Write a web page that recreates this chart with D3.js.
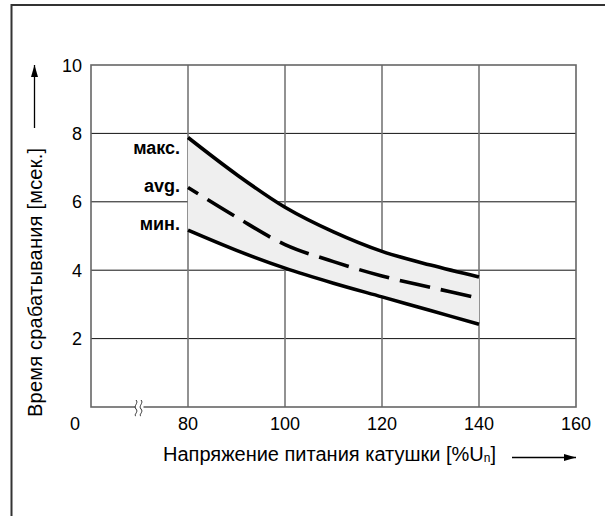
<!DOCTYPE html>
<html>
<head>
<meta charset="utf-8">
<script src="https://cdn.jsdelivr.net/npm/d3@7"></script>
<style>
  body { margin: 0; background: #fff; }
  text { font-family: "Liberation Sans", Arial, sans-serif; }
</style>
</head>
<body>
<svg width="605" height="516"></svg>
<script>
// data
const voltage = [80, 90, 100, 110, 120, 130, 140];
const tMax = [7.88, 6.8, 5.84, 5.12, 4.55, 4.15, 3.8];
const tAvg = [6.42, 5.55, 4.75, 4.25, 3.83, 3.5, 3.18];
const tMin = [5.17, 4.58, 4.06, 3.62, 3.22, 2.82, 2.42];
const xTicks = [80, 100, 120, 140, 160];
const yTicks = [2, 4, 6, 8, 10];
const curveLabels = ["макс.", "avg.", "мин."];

const svg = d3.select("svg");

// frame: only top and left edges
svg.append("path")
    .attr("d", "M11.5,516V5H605")
    .attr("fill", "none")
    .attr("stroke", "#333")
    .attr("stroke-width", 2);

var xScale = d3.scaleLinear().domain([60, 160]).range([91, 576]);
var yScale = d3.scaleLinear().domain([0, 10]).range([407, 65]);

// grid
svg.append("g").selectAll("line")
    .data(yTicks.slice(0, 4))
    .enter().append("line")
    .attr("x1", xScale(60)).attr("x2", xScale(160))
    .attr("y1", d => yScale(d)).attr("y2", d => yScale(d))
    .attr("stroke", "#111").attr("stroke-width", 1);

svg.append("g").selectAll("line")
    .data(xTicks.slice(0, 4))
    .enter().append("line")
    .attr("x1", d => xScale(d)).attr("x2", d => xScale(d))
    .attr("y1", yScale(0)).attr("y2", yScale(10))
    .attr("stroke", "#777").attr("stroke-width", 1.6);

// plot border
svg.append("rect")
    .attr("x", xScale(60)).attr("y", yScale(10))
    .attr("width", xScale(160) - xScale(60))
    .attr("height", yScale(0) - yScale(10))
    .attr("fill", "none")
    .attr("stroke", "#666").attr("stroke-width", 1.6);

// band between max and min
var band = d3.area()
    .x((d, i) => xScale(voltage[i]))
    .y0((d, i) => yScale(tMin[i]))
    .y1((d, i) => yScale(tMax[i]))
    .curve(d3.curveCatmullRom);
svg.append("path")
    .datum(voltage)
    .attr("d", band)
    .attr("fill", "#efefef");

var line = d3.line()
    .x((d, i) => xScale(voltage[i]))
    .y(d => yScale(d))
    .curve(d3.curveCatmullRom);

[tMax, tAvg, tMin].forEach(function (s, k) {
    svg.append("path")
        .datum(s)
        .attr("d", line)
        .attr("fill", "none")
        .attr("stroke", "#000")
        .attr("stroke-width", 3.6)
        .attr("stroke-dasharray", k == 1 ? "31,11" : null)
        .attr("stroke-dashoffset", k == 1 ? 19 : null);
});

// curve labels
svg.append("g").selectAll("text")
    .data(curveLabels)
    .enter().append("text")
    .attr("x", 180)
    .attr("y", (d, i) => [154, 192, 230][i])
    .attr("text-anchor", "end")
    .attr("font-size", 18)
    .attr("font-weight", "bold")
    .text(d => d);

// tick labels
svg.append("g").selectAll("text")
    .data(xTicks)
    .enter().append("text")
    .attr("x", d => xScale(d))
    .attr("y", 430)
    .attr("text-anchor", "middle")
    .attr("font-size", 18)
    .text(d => d);

svg.append("g").selectAll("text")
    .data(yTicks)
    .enter().append("text")
    .attr("x", 82)
    .attr("y", d => yScale(d) + 6.5)
    .attr("text-anchor", "end")
    .attr("font-size", 18)
    .text(d => d);

svg.append("text")
    .attr("x", 75).attr("y", 430)
    .attr("text-anchor", "middle")
    .attr("font-size", 18)
    .text("0");

// axis break mark
var bx = xScale(70), by = yScale(0);
svg.append("rect")
    .attr("x", bx - 4).attr("y", by - 2).attr("width", 8).attr("height", 4)
    .attr("fill", "#fff");
[-2.5, 2.5].forEach(function (o) {
    svg.append("path")
        .attr("d", "M" + (bx + o - 1) + "," + (by - 7) +
            "c3,3 -3,6 0,9 c3,3 -3,6 0,7")
        .attr("fill", "none")
        .attr("stroke", "#333")
        .attr("stroke-width", 1);
});

// arrow markers
svg.append("defs").append("marker")
    .attr("id", "arr")
    .attr("viewBox", "0 0 12 8")
    .attr("refX", 12).attr("refY", 4)
    .attr("markerWidth", 12).attr("markerHeight", 8)
    .attr("markerUnits", "userSpaceOnUse")
    .attr("orient", "auto")
    .append("path")
    .attr("d", "M0,0.5L12,4L0,7.5Z")
    .attr("fill", "#000");

// y title + arrow
svg.append("text")
    .attr("transform", "translate(42,417) rotate(-90)")
    .attr("text-anchor", "start")
    .attr("font-size", 20)
    .attr("textLength", 269)
    .attr("lengthAdjust", "spacing")
    .text("Время срабатывания [мсек.]");
svg.append("line")
    .attr("x1", 34.5).attr("y1", 128).attr("x2", 34.5).attr("y2", 65)
    .attr("stroke", "#000").attr("stroke-width", 1.3)
    .attr("marker-end", "url(#arr)");

// x title + arrow
var xt = svg.append("text")
    .attr("x", 163).attr("y", 461)
    .attr("font-size", 20);
xt.append("tspan").text("Напряжение питания катушки [%U");
xt.append("tspan").attr("font-size", 12).attr("dy", 1).text("n");
xt.append("tspan").attr("dy", -1).text("]");
svg.append("line")
    .attr("x1", 512).attr("y1", 457.5).attr("x2", 576).attr("y2", 457.5)
    .attr("stroke", "#000").attr("stroke-width", 1.3)
    .attr("marker-end", "url(#arr)");
</script>
</body>
</html>
